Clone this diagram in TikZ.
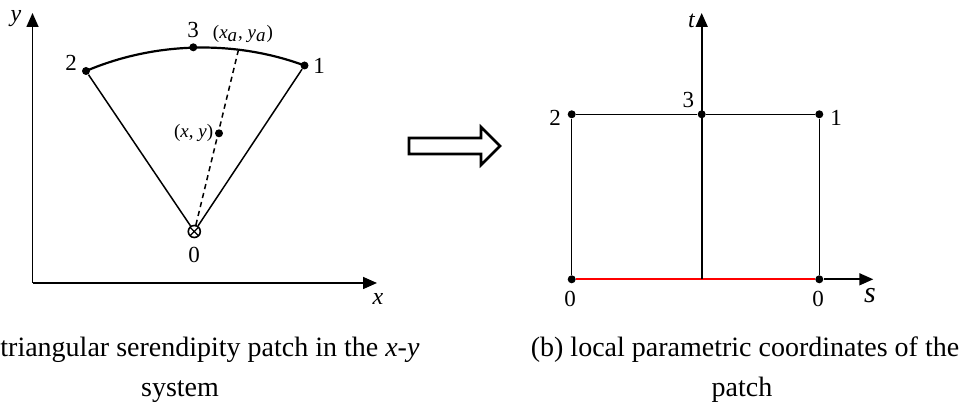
\documentclass[tikz,border=0pt]{standalone}
\usepackage{fontspec}
\setmainfont{Liberation Serif}
\usetikzlibrary{arrows.meta}

\begin{document}
\begin{tikzpicture}[
x=0.5pt, y=-0.5pt,
font=\fontsize{12}{14}\selectfont,
dot/.style={circle, fill, inner sep=0pt, minimum size=4pt},
origin/.style={circle, draw, line width=0.8pt, inner sep=0pt, minimum size=6pt,
  path picture={\draw[line width=0.6pt] (path picture bounding box.north west) -- (path picture bounding box.south east)
  (path picture bounding box.north east) -- (path picture bounding box.south west);}},
axis/.style={line width=0.8pt, -{Triangle[length=7pt,width=6pt]}},
edge/.style={line width=0.75pt},
num/.style={inner sep=0pt, font=\fontsize{11.5}{13}\selectfont},
var/.style={inner sep=0pt, font=\fontsize{12}{14}\selectfont\itshape},
pt/.style={inner sep=0pt, font=\fontsize{9.5}{11}\selectfont},
captext/.style={inner sep=0pt, anchor=base, font=\fontsize{14}{16}\selectfont}
]
\useasboundingbox (0,0) rectangle (965,405);

% Left side (x-y system)
\coordinate (oxy) at (32.5,283);
\coordinate (ytip) at (32.5,13);
\coordinate (xtip) at (377,283);
\draw[axis] (oxy) -- (ytip);
\draw[axis] (oxy) -- (xtip);
\node[var] (ylab) at (16,19) {y};
\node[var] (xlab) at (378,299) {x};

\node[origin] (p0) at (194.3,231.5) {};
\node[dot] (p2) at (86,71) {};
\node[dot] (p1) at (304.5,65.5) {};
\node[dot] (p3) at (193.3,47.3) {};
\node[dot] (pxy) at (219,133.3) {};
\coordinate (pa) at (238.3,50.5);

\draw[edge] (p0) -- (p2);
\draw[edge] (p0) -- (p1);
\draw[line width=1.1pt] (p2.center) to[bend left=21.7, looseness=0.87] (p1.center);
\draw[edge, dash pattern=on 2.6pt off 2pt] (p0) -- (pa);

\node[num] (l0) at (194,255) {0};
\node[num] (l1) at (319,66) {1};
\node[num] (l2) at (71,63) {2};
\node[num] (l3) at (193,30) {3};
\node[pt, anchor=east] (lxy) at (213.5,133) {(\textit{x}, \textit{y})};
\node[pt] (la) at (243,34) {(\textit{x}$_{\textit{a}}$, \textit{y}$_{\textit{a}}$)};

% Hollow arrow
\draw[line width=1.3pt, line join=miter] (409,138) -- (481,138) -- (481,127) -- (500,146)
  -- (481,165) -- (481,154) -- (409,154) -- cycle;

% Right side (s-t system)
\node[dot] (q0) at (571.7,279.3) {};
\node[dot] (q0b) at (819.3,279.3) {};
\node[dot] (q2) at (571.7,114.3) {};
\node[dot] (q3) at (701.7,114.3) {};
\node[dot] (q1) at (819.3,114.3) {};
\coordinate (qm) at (701.7,279.3);
\coordinate (ttip) at (701.7,13);
\coordinate (stip) at (873.3,279.3);

\draw[edge] (q0) -- (q2) -- (q3) -- (q1) -- (q0b);
\draw[line width=0.8pt, red] (q0) -- (q0b);
\draw[axis] (qm) -- (ttip);
\draw[axis] (q0b) -- (stip);

\node[var] (tlab) at (691.5,21) {t};
\node[var, font=\fontsize{15}{16}\selectfont\itshape] (slab) at (870,296) {s};
\node[num] (m0) at (570,299) {0};
\node[num] (m0b) at (818,299) {0};
\node[num] (m1) at (836,118) {1};
\node[num] (m2) at (555,118) {2};
\node[num] (m3) at (688.3,100) {3};

% Captions
\node[captext, anchor=base west] (capa) at (0,357) {triangular serendipity patch in the \textit{x}-\textit{y}};
\node[captext] (capa2) at (180,397) {system};
\node[captext] (capb) at (745,357) {(b) local parametric coordinates of the};
\node[captext] (capb2) at (742,397) {patch};

\end{tikzpicture}
\end{document}
